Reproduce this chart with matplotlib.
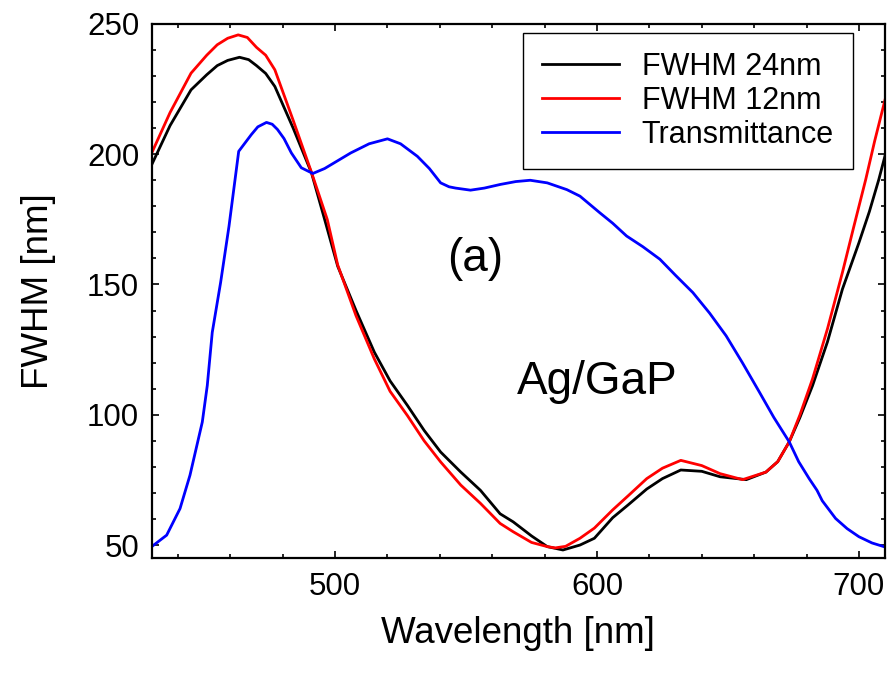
import numpy as np
import matplotlib
matplotlib.use("Agg")
import matplotlib.pyplot as plt
from matplotlib.ticker import MultipleLocator

plt.rcParams['font.family'] = ['Liberation Sans', 'DejaVu Sans']

# FWHM for 24 nm resonance linewidth
wl_24 = [430, 437, 445, 451, 455, 459, 463.5, 467, 470, 473.5, 477, 484, 491, 496, 501, 508,
         515, 521, 527.6, 534, 540.3, 548, 555.5, 563, 568, 575, 581, 587, 593.5, 599,
         606, 612, 619, 625, 632, 640, 647, 657, 664.5, 669, 673.4, 677.5, 682.3, 688,
         693.7, 700, 704, 707.6, 710]
fwhm_24 = [196, 211, 224.7, 230.5, 234, 236, 237.2, 236.3, 234, 231, 226, 210, 192.8, 175, 157, 140,
           124, 113, 103.6, 94, 85.7, 78, 71, 62, 58.9, 53.5, 49.4, 48.1, 50, 52.6,
           60.5, 65.5, 71.5, 75.5, 78.8, 78.3, 76.2, 75.1, 78, 82, 89.6, 99, 111.2, 128,
           148.2, 166, 178, 190.3, 199.5]

# FWHM for 12 nm resonance linewidth
wl_12 = [430, 437, 445, 451, 455, 459, 463, 466.5, 470, 473.5, 477, 484, 491, 497, 501, 508,
         515, 521, 527.6, 534, 540.3, 548, 555.5, 563, 568, 575, 581, 584, 588, 593.5,
         599, 606, 612, 619, 625, 632, 640, 647, 655.6, 664.5, 669, 673.4, 677.5, 682.3,
         688, 693.7, 698, 702.6, 706, 710]
fwhm_12 = [200.5, 216, 231.1, 238, 242, 244.5, 245.8, 244.8, 241, 238, 232.4, 213, 193, 175, 157.5, 138,
           121.4, 109, 99.7, 90, 81.9, 73, 66, 58.3, 55.1, 51, 49.4, 48.9, 49.5, 52.6,
           56.5, 63.5, 69, 75.5, 79.5, 82.5, 80.5, 77.4, 75.1, 78, 82, 89.6, 100, 113.8,
           133, 154.6, 172, 190.3, 205, 221]

# transmittance (scaled onto the FWHM axis)
wl_tr = [430, 435.7, 440.8, 444.6, 449.3, 451.2, 453.1, 456.3, 459.5, 463.2, 468, 470.5,
         473.8, 476, 478, 480.5, 483.3, 487.1, 491.5, 496, 506, 513, 520, 525, 531.4, 536,
         540.3, 543.5, 546, 551.7, 557, 563.1, 569, 574.5, 581, 588.5, 593.5, 601.1, 606,
         611.3, 617.5, 624, 630, 636.6, 643, 649.3, 655.5, 662, 667.5, 673.4, 677, 681, 684,
         686, 691.1, 695.5, 700, 705, 709.5, 710]
trans = [49.4, 53.8, 64, 76.8, 97.2, 111.2, 131.6, 150.8, 172.4, 201.1, 207.5, 210.5,
         212.2, 211.5, 209.5, 206, 200.5, 194.8, 192.6, 194.5, 200.5, 204, 205.9, 204, 199.2, 194.5,
         189, 187.5, 187, 186.2, 187, 188.4, 189.5, 190, 189, 186.4, 183.9, 177.5, 173.5,
         168.6, 164.5, 159.7, 153.5, 146.9, 139, 130.3, 120, 108.7, 99, 89.6, 82, 75.5, 71,
         67, 60.2, 56.3, 53.2, 50.8, 49.4, 49.3]

fig = plt.figure(figsize=(8.9, 6.74), dpi=100)
ax = fig.add_axes([0.1705, 0.172, 0.824, 0.7925])

ax.plot(wl_24, fwhm_24, color='black', lw=2, label='FWHM 24nm', solid_joinstyle='round')
ax.plot(wl_12, fwhm_12, color='#ff0000', lw=2, label='FWHM 12nm', solid_joinstyle='round')
ax.plot(wl_tr, trans, color='#0000ff', lw=2, label='Transmittance', solid_joinstyle='round')

ax.set_xlim(430, 710)
ax.set_ylim(45, 250)
ax.xaxis.set_major_locator(MultipleLocator(100))
ax.xaxis.set_minor_locator(MultipleLocator(20))
ax.yaxis.set_major_locator(MultipleLocator(50))
ax.yaxis.set_minor_locator(MultipleLocator(10))
ax.tick_params(which='both', direction='in', top=True, right=True, width=1.2)
ax.tick_params(which='major', length=5, labelsize=22.5)
ax.tick_params(which='minor', length=3)
ax.tick_params(axis='x', which='major', pad=10)
ax.tick_params(axis='y', which='major', pad=9)
for s in ax.spines.values():
    s.set_linewidth(1.6)

ax.set_xlabel('Wavelength [nm]', fontsize=26.5, labelpad=10)
ax.set_ylabel('FWHM [nm]', fontsize=26.5, labelpad=22)

ax.text(0.441, 0.56, '(a)', transform=ax.transAxes, fontsize=33, ha='center', va='center')
ax.text(0.608, 0.33, 'Ag/GaP', transform=ax.transAxes, fontsize=33, ha='center', va='center')

leg = ax.legend(loc='upper right', bbox_to_anchor=(0.956, 0.983), borderaxespad=0,
                fontsize=22, fancybox=False, edgecolor='black', framealpha=1,
                handlelength=2.5, handletextpad=0.76, labelspacing=0.13, borderpad=0.62)
leg.get_frame().set_linewidth(1.0)

fig.savefig('out.png', dpi=100)
